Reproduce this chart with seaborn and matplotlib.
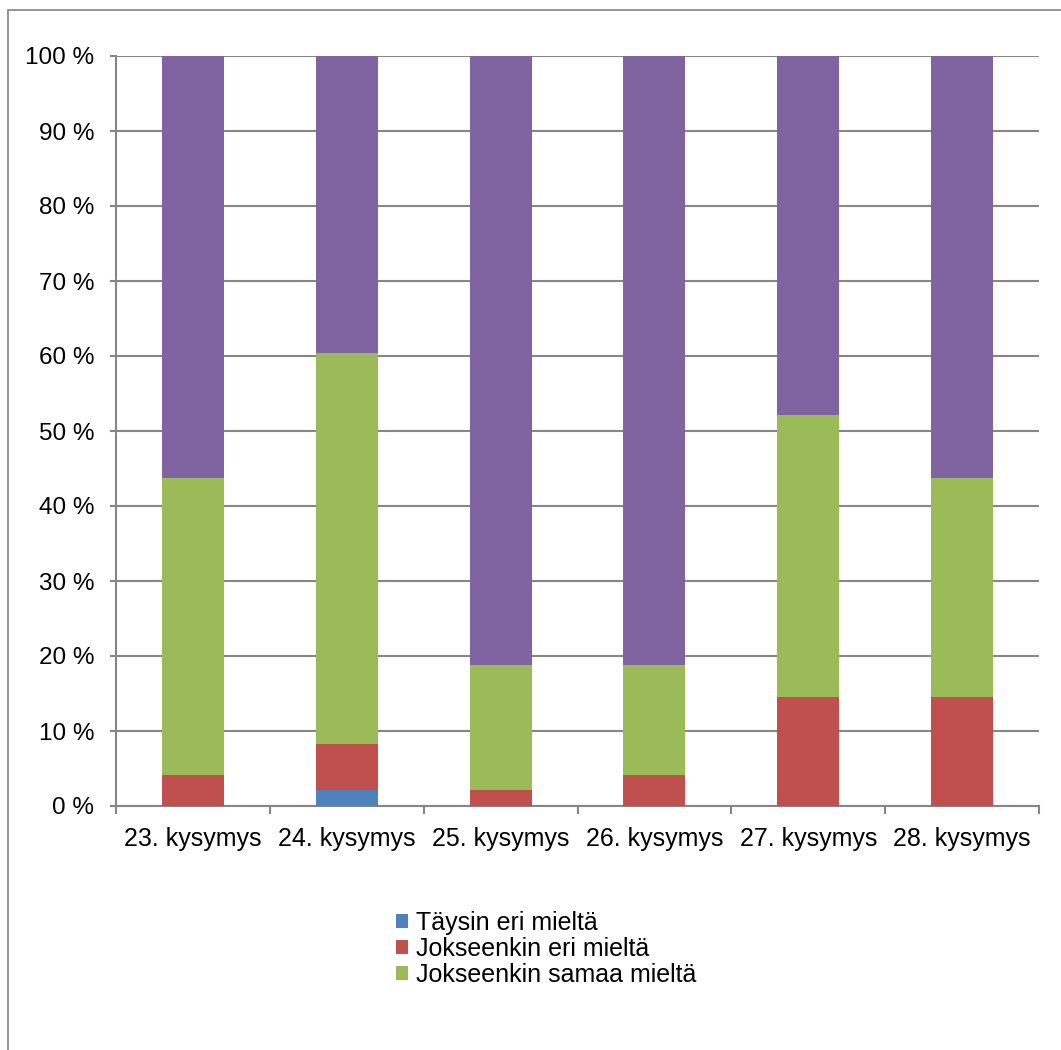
import numpy as np
import matplotlib
matplotlib.use("Agg")
import matplotlib.pyplot as plt
from matplotlib.patches import Rectangle, Patch
from matplotlib.ticker import FuncFormatter, FixedLocator
import seaborn as sns

# Survey answers, share of respondents (%) per question
questions = ["23. kysymys", "24. kysymys", "25. kysymys",
             "26. kysymys", "27. kysymys", "28. kysymys"]
taysin_eri = [0.0, 2.08, 0.0, 0.0, 0.0, 0.0]
jokseenkin_eri = [4.17, 6.25, 2.08, 4.17, 14.58, 14.58]
jokseenkin_samaa = [39.58, 52.08, 16.67, 14.58, 37.50, 29.17]
taysin_samaa = [56.25, 39.58, 81.25, 81.25, 47.92, 56.25]

series_labels = ["Täysin eri mieltä", "Jokseenkin eri mieltä",
                 "Jokseenkin samaa mieltä", "Täysin samaa mieltä"]
series_values = [taysin_eri, jokseenkin_eri, jokseenkin_samaa, taysin_samaa]
series_colors = ["#4F81BD", "#C0504D", "#9BBB59", "#8064A2"]

sns.set_theme(style="white")
plt.rcParams["font.family"] = ["Liberation Sans", "DejaVu Sans"]

W, H = 1061, 1050
fig = plt.figure(figsize=(W / 100, H / 100), dpi=100)
ax = fig.add_axes([116 / W, 1 - 806 / H, (1039 - 116) / W, (806 - 56) / H])

# Stacked bars: draw cumulative totals from the top segment down
cum = np.cumsum(np.array(series_values), axis=0)
for i in reversed(range(len(series_values))):
    sns.barplot(x=questions, y=cum[i], color=series_colors[i],
                width=0.403, saturation=1, ax=ax, zorder=3,
                edgecolor="none", linewidth=0)

grid_col = "#868686"
ax.set_ylim(0, 100)
ax.set_xlim(-0.5, len(questions) - 0.5)
ax.set_yticks(np.arange(0, 101, 10))
ax.yaxis.set_major_formatter(FuncFormatter(lambda v, p: f"{int(v)} %"))
ax.yaxis.grid(True, color=grid_col, linewidth=1.5, zorder=0)
ax.xaxis.grid(False)
ax.set_axisbelow(True)
ax.set_xlabel("")
ax.set_ylabel("")

for side in ["top", "right"]:
    ax.spines[side].set_visible(False)
for side in ["left", "bottom"]:
    ax.spines[side].set_color(grid_col)
    ax.spines[side].set_linewidth(1.5)

ax.tick_params(axis="y", which="major", length=4.5, width=1.5, color=grid_col,
               left=True, pad=11, labelsize=17.5, labelcolor="black")
ax.tick_params(axis="x", which="major", length=0, pad=15,
               labelsize=18, labelcolor="black")
ax.xaxis.set_minor_locator(FixedLocator(np.arange(-0.5, len(questions), 1.0)))
ax.tick_params(axis="x", which="minor", length=5.5, width=1.5,
               color=grid_col, bottom=True)

handles = [Patch(facecolor=series_colors[i], edgecolor="none", label=series_labels[i])
           for i in range(3)]
fig.legend(handles=handles, loc="upper left",
           bbox_to_anchor=(396 / W, 1 - 911 / H), bbox_transform=fig.transFigure,
           frameon=False, fontsize=18, handlelength=0.48, handleheight=0.48,
           handletextpad=0.3, labelspacing=0.08, borderpad=0, borderaxespad=0,
           labelcolor="black")

# Outer chart border
fig.add_artist(Rectangle((7.8 / W, -0.1), 1.2, 1.1 - 9.7 / H,
                         transform=fig.transFigure, fill=False,
                         edgecolor="#8c8c8c", linewidth=1.3))

fig.savefig("out.png", dpi=100)
